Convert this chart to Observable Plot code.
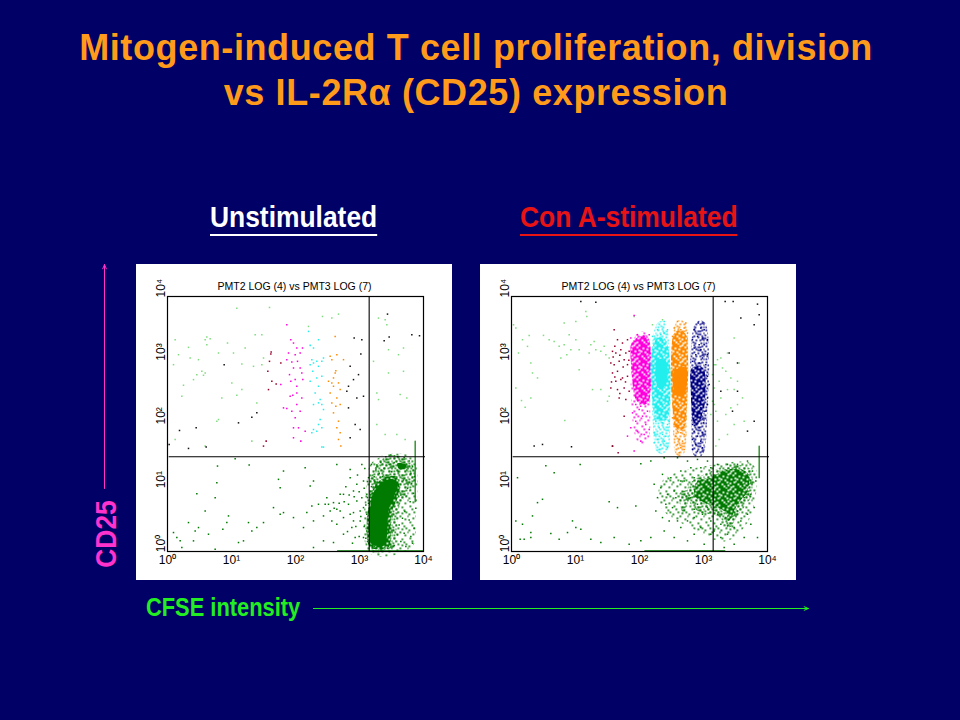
<!DOCTYPE html>
<html><head><meta charset="utf-8">
<script src="https://cdn.jsdelivr.net/npm/d3@7"></script>
<script src="https://cdn.jsdelivr.net/npm/@observablehq/plot@0.6"></script>
<style>
html,body{margin:0;background:#000066;width:960px;height:720px;overflow:hidden}
body{position:relative;font-family:"Liberation Sans",Arial,sans-serif}
.t{position:absolute;white-space:nowrap;font-weight:bold}
#title{left:0;width:952px;top:25px;text-align:center;color:#ff9a1a;font-size:36px;line-height:45px;letter-spacing:.6px}
.sub{font-size:30px;line-height:34px;border-bottom:2px solid;transform:scaleX(.88);transform-origin:left top}
.panel{position:absolute;top:264px;width:316px;height:316px;background:#fff}
.panel svg{display:block}
</style></head><body>
<div id="title" class="t">Mitogen-induced T cell proliferation, division<br>vs IL-2Rα (CD25) expression</div>
<div class="t sub" style="left:210px;top:200px;color:#fff">Unstimulated</div>
<div class="t sub" style="left:520px;top:200px;color:#e81414">Con A-stimulated</div>
<div class="t" style="left:146px;top:593px;color:#22ee22;font-size:26px;line-height:28px;transform:scaleX(.84);transform-origin:left top">CFSE intensity</div>
<div class="t" style="left:106px;top:534px;color:#ff33cc;font-size:30px;line-height:30px;transform:translate(-50%,-50%) rotate(-90deg) scaleX(.88)">CD25</div>
<div id="left" class="panel" style="left:136px"></div>
<div id="right" class="panel" style="left:480px"></div>
<div id="arrows" style="position:absolute;left:0;top:0;pointer-events:none"></div>
<svg id="tiles" width="0" height="0" style="position:absolute"></svg>
<script>
// Axes are in cytometer channels, 192 channels to a log decade.
const decades = [0, 192, 384, 576, 768];
const tickLabels = ["10⁰", "10¹", "10²", "10³", "10⁴"];
const panelTitle = "PMT2 LOG (4) vs PMT3 LOG (7)";
const gateX = 605, gateY = 285;

const leftPale = [[23,637],[33,592],[63,614],[113,637],[118,645],[128,640],[118,622],[180,627],[93,577],[68,582],[18,562],[153,597],[198,597],[233,612],[263,652],[283,652],[208,732],[306,734],[103,542],[113,537],[108,530],[88,532],[78,517],[48,500],[43,467],[163,462],[153,397],[148,392],[208,470],[268,447],[253,332],[23,337],[113,317],[465,707],[513,714],[493,702],[423,677],[633,702],[653,697],[658,682],[708,612],[693,592],[663,607],[618,572],[663,537],[708,542],[628,477],[633,457],[698,472],[718,462],[653,352],[688,352],[628,382],[713,337],[288,582],[258,557],[283,562],[223,564],[193,507],[223,487]];
const leftRed = [[311,600],[310,594],[306,572],[301,542],[340,567],[313,512],[326,504],[303,487],[296,332],[288,317]];
const leftMagenta = [[358,682],[370,637],[378,627],[388,612],[405,612],[363,597],[383,592],[398,597],[358,577],[373,570],[390,572],[378,552],[398,552],[366,532],[383,517],[403,537],[370,512],[388,497],[340,502],[406,517],[368,467],[376,470],[388,477],[403,462],[348,432],[358,430],[388,442],[398,422],[373,422],[383,402],[378,372],[393,372],[378,342],[400,332],[413,362]];
const leftCyan = [[428,620],[438,612],[453,637],[423,662],[433,577],[448,572],[463,572],[428,562],[438,567],[453,557],[468,582],[436,542],[448,522],[463,527],[428,512],[453,497],[443,477],[458,457],[453,447],[463,442],[438,442],[468,427],[458,397],[453,382],[438,367],[448,362],[433,357],[463,372],[463,314],[468,314]];
const leftOrange = [[503,647],[488,587],[493,577],[508,592],[528,577],[505,544],[503,537],[498,522],[483,512],[493,507],[513,507],[498,497],[488,477],[518,487],[508,462],[493,447],[505,437],[518,442],[498,417],[513,392],[508,372],[518,357],[513,337],[520,317]];
const leftBlack = [[560,642],[583,637],[580,594],[548,557],[573,532],[558,517],[543,497],[538,482],[568,462],[543,432],[588,467],[563,382],[578,367],[548,342],[733,652],[756,649],[660,714],[650,634],[665,645],[36,364],[86,372],[170,562],[213,387],[253,404],[268,417],[5,322],[63,310],[116,314]];
const leftGreen = [[348,242],[333,217],[413,252],[438,212],[428,197],[338,192],[318,132],[348,117],[338,112],[378,102],[408,72],[453,142],[478,162],[498,147],[508,127],[528,172],[548,222],[558,182],[568,152],[588,212],[598,172],[518,172],[488,122],[468,107],[438,92],[508,82],[548,112],[578,92],[598,62],[563,42],[528,52],[498,27],[468,32],[438,12],[588,132],[558,117],[528,102],[583,262],[548,247],[508,262],[568,202],[583,162],[518,122],[543,142],[558,92],[588,42],[553,72],[493,92],[483,142],[473,142],[433,137],[418,117],[598,112],[578,122],[603,222],[600,162],[590,190],[575,180],[560,165],[545,170],[530,150],[515,145],[500,130],[595,140],[580,105],[565,75],[540,60],[590,75],[575,45],[555,25],[600,30],[592,250],[570,230],[535,195],
  [18,57],[28,42],[38,32],[63,87],[83,62],[93,72],[78,32],[43,12],[123,52],[143,7],[183,107],[178,87],[166,67],[243,87],[268,72],[253,62],[228,32],[213,27],[288,87],[148,207],[150,257],[143,162],[88,174],[113,122],[203,279],[245,260],
  [612,262],[625,245],[640,268],[655,285],[670,290],[690,285],[710,282],[725,272],[735,255],[741,225],[620,225],[635,235],[650,250],[665,262],[680,268],[700,255],[718,245],[730,235],[612,195],[622,210],[610,170],[618,150],[607,120],[608,90],[606,60],[610,30],[620,15],[640,8],[660,10],[680,18],[690,50],[695,80],[705,100],[712,120],[728,150],[738,175],[720,190],[732,205],[700,170],[690,200],[708,215],[672,240],[692,240],[682,225],[745,130],[725,95],[740,70],[710,55],[730,45],[700,30],[715,15],[735,25],[628,260],[645,225],[600,210],[603,145],[600,95],[595,40]];
const leftOuter = [[600,230],[638,285],[680,295],[735,285],[750,225],[745,110],[730,10],[600,2]];
const leftHalo = [[608,212],[638,272],[678,290],[728,272],[743,222],[723,172],[698,142],[688,82],[678,12],[608,2],[605,102]];
const leftRing = [[606,150],[620,195],[650,222],[682,226],[697,200],[690,160],[673,120],[670,70],[665,15],[618,8],[600,30],[598,95]];
const leftCore = [[613,162],[628,192],[653,214],[678,217],[690,197],[678,162],[663,122],[660,72],[653,22],[623,17],[608,32],[605,92]];
const leftSpot = [[690,265],[715,262],[712,250],[695,248]];
const leftSpike = [[743,150],[743,332]];
const leftBase = [[510,2],[768,2]];

const rightPale = [[13,672],[6,682],[21,597],[33,637],[53,650],[48,617],[58,567],[63,537],[78,522],[13,492],[30,454],[41,434],[58,462],[96,650],[113,637],[128,632],[143,617],[158,687],[173,652],[193,692],[158,622],[166,592],[193,637],[178,607],[148,582],[223,722],[226,707],[203,607],[238,622],[253,607],[268,602],[283,592],[293,582],[278,617],[248,632],[233,597],[203,547],[243,487],[268,487],[288,452],[160,394],[293,467],[368,707],[453,697],[423,682],
  [618,577],[613,562],[628,582],[648,597],[683,567],[668,642],[643,542],[658,522],[678,512],[623,512],[608,492],[648,487],[668,487],[693,462],[628,462],[613,422],[608,442],[618,392],[658,432],[678,442],[643,412],[668,382],[623,337],[613,317],[698,392],[648,352],[608,562],[633,552],[603,532],[603,452],[598,412]];
const rightRed = [[308,667],[318,637],[333,627],[348,637],[303,602],[313,597],[328,607],[343,597],[353,602],[298,567],[308,562],[323,572],[338,577],[303,537],[318,542],[333,522],[348,527],[313,512],[328,517],[353,482],[338,492],[343,457],[323,462],[338,407],[303,317],[320,297],[298,492],[318,487],[348,562],[310,617],[325,590],[335,555],[310,525],[342,510],[325,475],[305,585],[352,575],[300,510]];
const rightMagenta = [[368,710],[378,652],[398,647],[358,642],[413,652],[373,442],[388,437],[403,452],[383,427],[408,422],[393,407],[373,392],[403,382],[358,372],[378,362],[398,352],[413,367],[348,347],[368,302],[388,332],[363,417]];
const rightMagentaTail = [[368,640],[413,640],[416,450],[412,340],[375,335],[358,470]];
const rightMagentaBody = [[363,632],[413,637],[415,462],[373,457],[358,572]];
const rightCyan = [[458,692],[438,667],[423,647],[468,667],[448,652],[458,657],[433,392],[453,387],[468,382],[443,372],[428,357],[453,352],[463,347],[438,337],[458,332],[448,322],[468,312],[428,327],[443,307],[473,392],[438,402],[463,397]];
const rightCyanTail = [[433,680],[465,680],[476,562],[476,400],[470,310],[432,310],[420,482],[418,582]];
const rightCyanBody = [[433,637],[463,637],[476,562],[476,462],[468,402],[433,402],[420,482],[418,582]];
const rightCyanCore = [[434,572],[464,572],[468,522],[453,490],[436,502]];
const rightOrange = [[498,692],[523,687],[488,672],[508,667],[518,672],[483,647],[498,662],[528,657],[498,362],[508,357],[493,347],[518,352],[503,337],[513,332],[498,322],[508,312],[518,307],[503,297],[488,382],[518,382],[483,402]];
const rightOrangeTail = [[490,680],[525,680],[530,562],[526,400],[520,300],[490,300],[483,432],[478,542]];
const rightOrangeBody = [[486,652],[523,652],[530,562],[526,432],[518,372],[493,372],[483,432],[478,542]];
const rightOrangeCore = [[490,545],[524,552],[526,500],[516,470],[494,472],[484,510]];
const rightNavy = [[560,687],[568,672],[548,667],[578,667],[558,647],[573,642],[543,637],[588,637],[563,622],[578,622],[548,612],[568,607],[588,592],[553,592],[573,582],[543,572],[563,567],[583,562],[548,442],[568,432],[558,417],[578,422],[543,412],[568,402],[553,397],[576,387],[543,382],[563,372],[548,362],[573,357],[558,347],[543,337],[568,332],[553,322],[573,312],[543,307],[558,302],[583,422],[588,442],[593,502],[588,527],[588,462]];
const rightNavyTail = [[548,680],[585,680],[593,562],[588,420],[578,300],[543,300],[540,462],[536,562]];
const rightNavyBody = [[540,550],[578,545],[580,450],[560,380],[544,390],[538,480]];
const rightBlack = [[208,752],[253,750],[738,744],[743,712],[641,752],[665,752],[688,702],[728,682],[68,317],[93,322],[180,315],[303,317],[678,567],[653,597],[628,482],[678,482],[663,422],[708,362],[728,392]];
const rightGreen = [[418,272],[458,282],[498,282],[528,272],[558,277],[588,272],[388,264],[453,232],[478,222],[508,242],[538,252],[568,252],[428,202],[448,192],[468,172],[488,182],[518,212],[548,222],[438,162],[463,142],[483,132],[433,122],[453,102],[473,92],[498,92],[508,72],[528,92],[548,102],[573,112],[598,92],[568,72],[548,52],[528,32],[488,42],[458,62],[418,42],[388,32],[598,52],[578,22],[608,62],[628,42],[648,52],[668,72],[688,92],[708,112],[728,132],[718,82],[698,42],[668,22],[638,12],[738,42],[718,172],[733,212],[723,242],[708,272],[678,262],[648,262],[618,262],[598,252],[558,142],[588,132],[618,112],[628,82],[648,77],[643,102],[658,102],[678,122],[698,162],[538,162],[548,127],[508,212],[493,162],
  [13,92],[33,82],[26,37],[38,37],[58,57],[63,107],[78,147],[93,157],[58,42],[118,54],[143,37],[168,57],[183,92],[193,72],[208,67],[238,37],[268,27],[308,42],[353,22],[293,150],[318,132],[373,137],[103,258],[18,222],[206,262],[128,237]];
const rightGreenWide = [[460,220],[600,260],[720,265],[735,190],[710,90],[640,30],[540,70],[450,130]];
const rightGreenMid = [[540,210],[640,255],[715,250],[720,170],[680,110],[650,70],[620,105],[560,120],[530,160]];
const rightGreenBody = [[598,222],[648,247],[708,237],[708,182],[678,142],[653,92],[638,122],[568,152],[548,172],[558,212]];
const rightGreenLobe = [[503,172],[533,182],[528,142],[513,117]];
const rightSpike = [[743,222],[743,317]];
const rightBase = [[400,2],[640,2]];

const arrowLines = [
  {x1:104, y1:488, x2:104, y2:264, color:"#ff33cc"},
  {x1:313, y1:608, x2:808, y2:608, color:"#22ee22"}
];

const PALE="#7fdc7f", GREEN="#007a00", RED="#99002b", MAGENTA="#ff00dd", CYAN="#22eeee", ORANGE="#ff8a00", NAVY="#000080", BLACK="#111";

// Stipple tiles, so dense clouds read as dots rather than flat shapes.
const thinTile = [[1,1],[9,2],[3,4],[11,5],[5,7],[13,7],[0,9],[7,11],[15,11],[4,13],[12,14],[9,8]];
const midTile = [...thinTile,[5,0],[13,1],[7,4],[15,4],[0,6],[9,5],[3,8],[13,10],[2,11],[11,11],[6,14],[15,14],[1,14],[6,2],[11,2],[14,9]];
const denseHoles = [[2,3],[7,1],[12,2],[4,7],[10,6],[15,8],[1,11],[7,12],[12,13],[5,15],[14,5],[9,10],[0,6],[6,4],[9,0],[13,9],[3,13],[10,14],[6,9],[14,0]];
const tileColors = {green:GREEN, magenta:MAGENTA, cyan:CYAN, orange:ORANGE, navy:NAVY};
document.getElementById("tiles").innerHTML = "<defs>"+Object.entries(tileColors).map(([k,c])=>{
  const sq=(list,f,s)=>list.map(([x,y])=>`<rect x="${x}" y="${y}" width="${s}" height="${s}" fill="${f}"/>`).join("");
  const pat=(id,body)=>`<pattern id="${id}-${k}" patternUnits="userSpaceOnUse" width="16" height="16">${body}</pattern>`;
  return pat("thin",sq(thinTile,c,1.7))+pat("mid",sq(midTile,c,1.7))+pat("dense",`<rect width="16" height="16" fill="${c}"/>`+sq(denseHoles,"#fff",1.8));
}).join("")+"</defs>";
const tile=(kind,k)=>`url(#${kind}-${k})`;

const shape=(pts,fill)=>Plot.line(pts,{x:"0",y:"1",fill,stroke:"none",curve:"cardinal-closed"});
const specks=(pts,color,r=.85)=>Plot.dot(pts,{x:"0",y:"1",symbol:"square",r,fill:color,stroke:"none"});
const trace=(pts,color)=>Plot.line(pts,{x:"0",y:"1",stroke:color,strokeWidth:1.2});

function panel(marks){
  return Plot.plot({
    width:316,height:316,marginLeft:31,marginRight:29,marginTop:32,marginBottom:29,
    style:{background:"transparent",fontFamily:"'Liberation Sans',Arial,sans-serif",fontSize:"11px",color:"#000",overflow:"visible"},
    x:{domain:[0,768],label:null},y:{domain:[0,767],label:null},
    marks:[
      ...marks,
      Plot.frame({stroke:"#000",strokeWidth:1.2}),
      Plot.ruleX([gateX],{stroke:"#000",strokeWidth:1.1}),
      Plot.ruleY([gateY],{x1:5,x2:774,stroke:"#000",strokeWidth:1.1}),
      Plot.axisX({ticks:decades,tickFormat:d=>tickLabels[decades.indexOf(d)],tickSize:0,tickPadding:4,label:null,fontSize:12}),
      Plot.axisY({ticks:decades,tickFormat:d=>tickLabels[decades.indexOf(d)],tickSize:0,tickPadding:3,tickRotate:-90,label:null,fontSize:12,dy:-8}),
      Plot.text([panelTitle],{frameAnchor:"top",dy:-14,dx:-1,fontSize:10.5,fill:"#000"})
    ]
  });
}
document.getElementById("left").append(panel([
  shape(leftOuter,tile("thin","green")), shape(leftHalo,tile("mid","green")), shape(leftRing,tile("dense","green")), shape(leftCore,GREEN), shape(leftSpot,GREEN),
  trace(leftSpike,GREEN), trace(leftBase,GREEN),
  specks(leftPale,PALE), specks(leftGreen,GREEN), specks(leftBlack,BLACK),
  specks(leftRed,RED), specks(leftMagenta,MAGENTA), specks(leftCyan,CYAN), specks(leftOrange,ORANGE)
]));
document.getElementById("right").append(panel([
  shape(rightGreenWide,tile("thin","green")), shape(rightGreenMid,tile("mid","green")), shape(rightGreenBody,tile("dense","green")), shape(rightGreenLobe,tile("mid","green")),
  trace(rightSpike,GREEN), trace(rightBase,GREEN),
  specks(rightPale,PALE), specks(rightGreen,GREEN), specks(rightBlack,BLACK), specks(rightRed,RED),
  shape(rightMagentaTail,tile("thin","magenta")), shape(rightMagentaBody,tile("dense","magenta")), specks(rightMagenta,MAGENTA),
  shape(rightCyanTail,tile("mid","cyan")), shape(rightCyanBody,tile("dense","cyan")), shape(rightCyanCore,CYAN), specks(rightCyan,CYAN),
  shape(rightOrangeTail,tile("mid","orange")), shape(rightOrangeBody,tile("dense","orange")), shape(rightOrangeCore,ORANGE), specks(rightOrange,ORANGE),
  shape(rightNavyTail,tile("mid","navy")), shape(rightNavyBody,tile("dense","navy")), specks(rightNavy,NAVY)
]));
document.getElementById("arrows").append(Plot.plot({
  width:960,height:720,margin:0,
  style:{background:"transparent"},
  x:{domain:[0,960],range:[0,960],axis:null},y:{domain:[0,720],range:[0,720],axis:null},
  marks:[Plot.arrow(arrowLines,{x1:"x1",y1:"y1",x2:"x2",y2:"y2",stroke:"color",strokeWidth:1,headLength:7,headAngle:45})]
}));
</script>
</body></html>
